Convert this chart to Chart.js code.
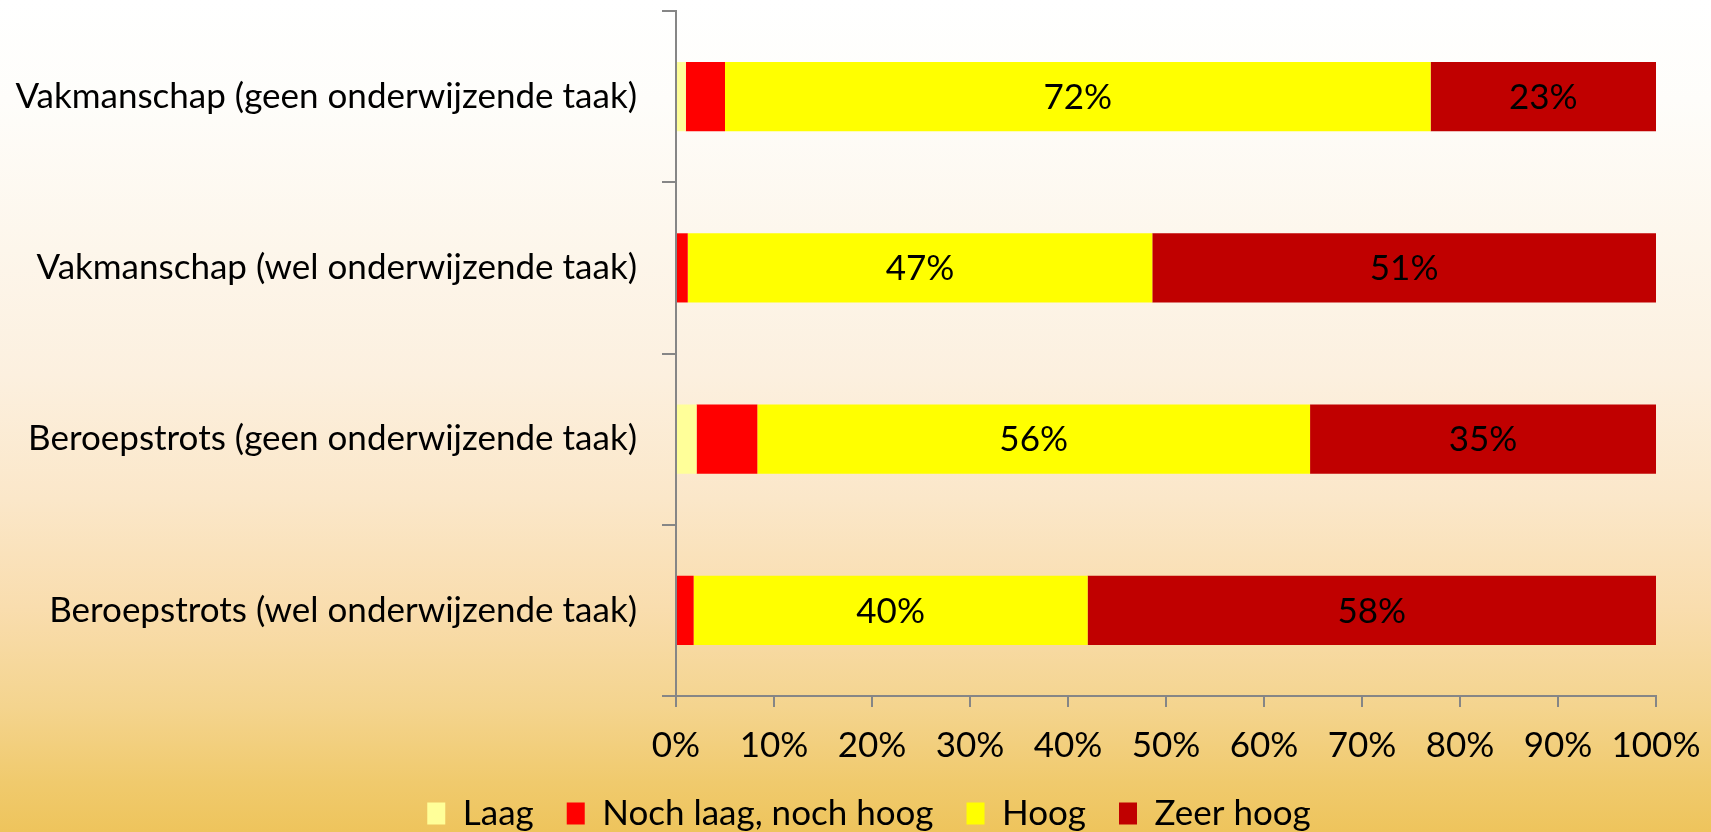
<!DOCTYPE html>
<html>
<head>
<meta charset="utf-8">
<script src="https://cdn.jsdelivr.net/npm/chart.js@4.4.1/dist/chart.umd.min.js"></script>
<style>
  html, body { margin: 0; padding: 0; }
  body {
    width: 1711px; height: 832px; overflow: hidden;
    background: linear-gradient(to bottom,
      #ffffff 0%, #fefdfa 12%, #fdf6eb 30%, #fcf0df 45%,
      #fbe7c9 60%, #f9ddae 73%, #f4d48e 85%, #f0ca6d 94%, #eec45c 100%);
  }
  #wrap { width: 1711px; height: 832px; }
</style>
</head>
<body>
<div id="wrap"><canvas id="c" width="1711" height="832"></canvas></div>
<script>
const categories = [
  'Vakmanschap (geen onderwijzende taak)',
  'Vakmanschap (wel onderwijzende taak)',
  'Beroepstrots (geen onderwijzende taak)',
  'Beroepstrots (wel onderwijzende taak)'
];
const seriesNames = ['Laag', 'Noch laag, noch hoog', 'Hoog', 'Zeer hoog'];
const laag       = [1.0, 0.0, 2.1, 0.0];
const nochLaag   = [4.0, 1.2, 6.2, 1.8];
const hoog       = [72.0, 47.4, 56.4, 40.2];
const zeerHoog   = [23.0, 51.4, 35.3, 58.0];
const xTickValues = [0, 10, 20, 30, 40, 50, 60, 70, 80, 90, 100];
const colors = ['#FFFF99', '#FF0000', '#FFFF00', '#C00000'];

const FONT = 'Lato';
const FS = 35;
const AXIS = '#868686';

const labelPlugin = {
  id: 'segLabels',
  afterDatasetsDraw(chart) {
    const ctx = chart.ctx;
    ctx.save();
    ctx.font = FS + 'px ' + FONT;
    ctx.fillStyle = '#000';
    ctx.textAlign = 'center';
    ctx.textBaseline = 'middle';
    [2, 3].forEach(di => {
      const meta = chart.getDatasetMeta(di);
      meta.data.forEach((el, i) => {
        const v = chart.data.datasets[di].data[i];
        if (v < 10) return;
        const x = (el.x + el.base) / 2;
        ctx.fillText(Math.round(v) + '%', x, el.y + 1);
      });
    });
    ctx.restore();
  }
};

new Chart(document.getElementById('c'), {
  type: 'bar',
  data: {
    labels: categories,
    datasets: [laag, nochLaag, hoog, zeerHoog].map((d, i) => ({
      label: seriesNames[i],
      data: d,
      backgroundColor: colors[i],
      borderWidth: 0,
      barPercentage: 0.404,
      categoryPercentage: 1.0
    }))
  },
  options: {
    indexAxis: 'y',
    responsive: false,
    devicePixelRatio: 1,
    animation: false,
    layout: { padding: { top: 11, right: -27, left: 0, bottom: -9 } },
    plugins: {
      tooltip: { enabled: false },
      legend: {
        position: 'bottom',
        labels: {
          font: { family: FONT, size: FS },
          color: '#000',
          boxWidth: 18,
          boxHeight: 22,
          padding: 33
        }
      }
    },
    scales: {
      x: {
        stacked: true,
        min: 0, max: 100,
        afterBuildTicks(scale) { scale.ticks = xTickValues.map(v => ({ value: v })); },
        afterFit(scale) { scale.height = 67; scale.paddingRight = 55; scale.paddingLeft = 0; },
        ticks: {
          font: { family: FONT, size: FS, lineHeight: 1.0 },
          color: '#000',
          padding: 21,
          maxRotation: 0,
          callback: v => v + '%'
        },
        grid: { drawOnChartArea: false, color: AXIS, lineWidth: 2, tickLength: 11 },
        border: { color: AXIS, width: 2 }
      },
      y: {
        stacked: true,
        afterFit(scale) { scale.width = 676; scale.paddingTop = 0; scale.paddingBottom = 0; },
        ticks: {
          font: { family: FONT, size: FS },
          color: '#000',
          padding: 25
        },
        grid: { offset: true, drawOnChartArea: false, color: AXIS, lineWidth: 2, tickLength: 14 },
        border: { color: AXIS, width: 2 }
      }
    }
  },
  plugins: [labelPlugin]
});
</script>
</body>
</html>
